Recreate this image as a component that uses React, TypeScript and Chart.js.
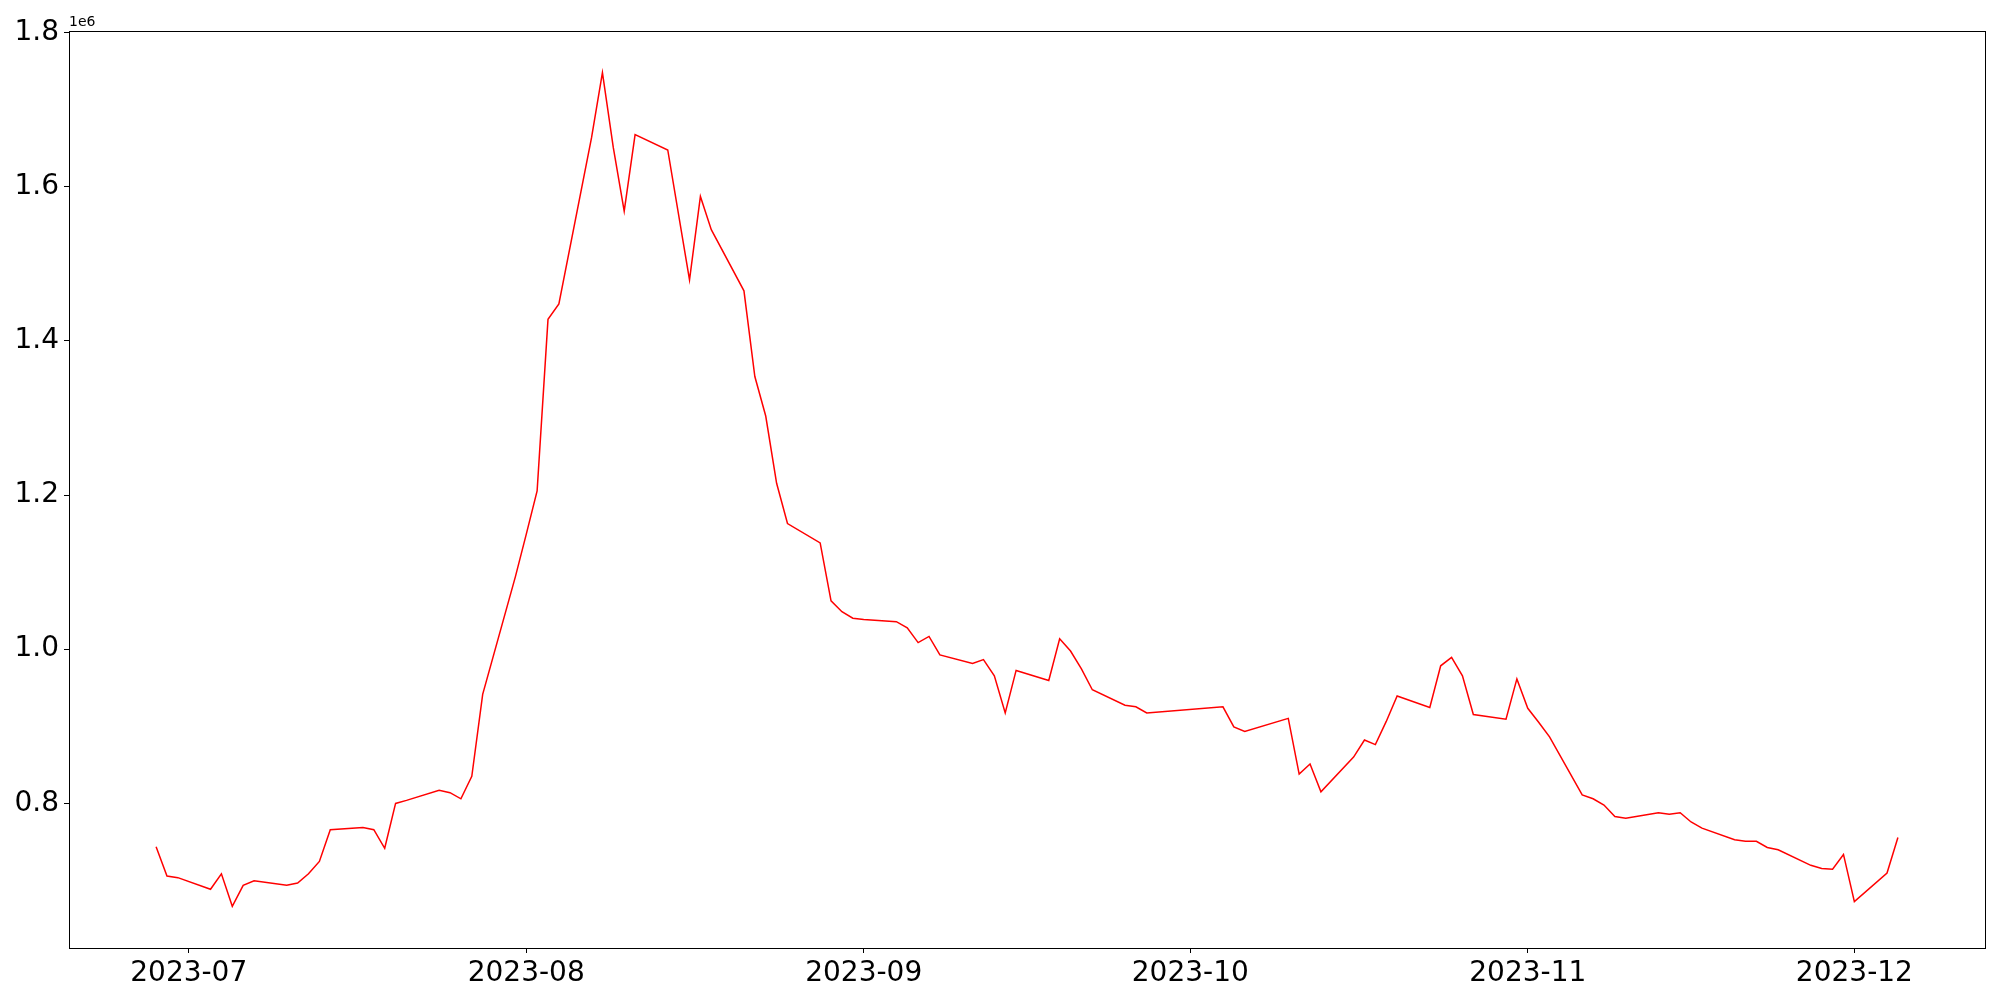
import React, { useEffect, useRef } from "react";
import { Chart, registerables } from "chart.js";

Chart.register(...registerables);

// Trading dates (weekday data with holiday gaps)
const dates: string[] = [
  "2023-06-28", "2023-06-29", "2023-06-30",
  "2023-07-03", "2023-07-04", "2023-07-05", "2023-07-06", "2023-07-07",
  "2023-07-10", "2023-07-11", "2023-07-12", "2023-07-13", "2023-07-14",
  "2023-07-17", "2023-07-18", "2023-07-19", "2023-07-20", "2023-07-21",
  "2023-07-24", "2023-07-25", "2023-07-26", "2023-07-27", "2023-07-28",
  "2023-07-31", "2023-08-01", "2023-08-02", "2023-08-03", "2023-08-04",
  "2023-08-07", "2023-08-08", "2023-08-09", "2023-08-10", "2023-08-11",
  "2023-08-14", "2023-08-16", "2023-08-17", "2023-08-18",
  "2023-08-21", "2023-08-22", "2023-08-23", "2023-08-24", "2023-08-25",
  "2023-08-28", "2023-08-29", "2023-08-30", "2023-08-31", "2023-09-01",
  "2023-09-04", "2023-09-05", "2023-09-06", "2023-09-07", "2023-09-08",
  "2023-09-11", "2023-09-12", "2023-09-13", "2023-09-14", "2023-09-15",
  "2023-09-18", "2023-09-19", "2023-09-20", "2023-09-21", "2023-09-22",
  "2023-09-25", "2023-09-26", "2023-09-27",
  "2023-10-04", "2023-10-05", "2023-10-06",
  "2023-10-10", "2023-10-11", "2023-10-12", "2023-10-13",
  "2023-10-16", "2023-10-17", "2023-10-18", "2023-10-19", "2023-10-20",
  "2023-10-23", "2023-10-24", "2023-10-25", "2023-10-26", "2023-10-27",
  "2023-10-30", "2023-10-31", "2023-11-01", "2023-11-02", "2023-11-03",
  "2023-11-06", "2023-11-07", "2023-11-08", "2023-11-09", "2023-11-10",
  "2023-11-13", "2023-11-14", "2023-11-15", "2023-11-16", "2023-11-17",
  "2023-11-20", "2023-11-21", "2023-11-22", "2023-11-23", "2023-11-24",
  "2023-11-27", "2023-11-28", "2023-11-29", "2023-11-30", "2023-12-01",
  "2023-12-04", "2023-12-05",
];

const values: number[] = [
  743600, 705500, 703500,
  688400, 708500, 666300, 693500, 699500,
  693500, 696500, 708500, 724600, 765700,
  768700, 765700, 741600, 799800, 803800,
  816900, 813800, 805800, 834900, 941300,
  1093800, 1149000, 1205200, 1427900, 1448000,
  1663700, 1748000, 1650700, 1568400, 1667700,
  1647700, 1479100, 1587400, 1544300,
  1465000, 1353700, 1302500, 1215200, 1163000,
  1137900, 1062700, 1048600, 1040100, 1038600,
  1035600, 1027600, 1008500, 1016500, 992500,
  981400, 986400, 965400, 917200, 972400,
  959300, 1013500, 997500, 974400, 947300,
  927200, 925200, 917200,
  925200, 899100, 893100,
  910200, 837900, 851000, 814900,
  860000, 882100, 876100, 906200, 939300,
  924200, 978400, 989400, 965400, 915200,
  909200, 961400, 923200, 905200, 886100,
  810800, 805800, 797800, 782800, 780700,
  787800, 785800, 787800, 775700, 767700,
  752600, 750600, 750600, 742600, 739600,
  719500, 715500, 714500, 733600, 672400,
  709500, 755600,
];

const xTickDates: string[] = ["2023-07-01", "2023-08-01", "2023-09-01", "2023-10-01", "2023-11-01", "2023-12-01"];
const xTickLabels: string[] = ["2023-07", "2023-08", "2023-09", "2023-10", "2023-11", "2023-12"];
const yTickValues: number[] = [800000, 1000000, 1200000, 1400000, 1600000, 1800000];
const yTickLabels: string[] = ["0.8", "1.0", "1.2", "1.4", "1.6", "1.8"];
const offsetText = "1e6";

const DAY_MS = 86400000;
const ORIGIN = Date.UTC(2023, 6, 1);
function toDay(s: string): number {
  const [y, m, d] = s.split("-").map(Number);
  return (Date.UTC(y, m - 1, d) - ORIGIN) / DAY_MS;
}

const FONT = "'DejaVu Sans', sans-serif";

export default function App() {
  const ref = useRef<HTMLCanvasElement | null>(null);

  useEffect(() => {
    if (!ref.current) return;
    const xs = dates.map(toDay);
    const xMinD = Math.min(...xs);
    const xMaxD = Math.max(...xs);
    const xm = (xMaxD - xMinD) * 0.05;
    const yMinD = Math.min(...values);
    const yMaxD = Math.max(...values);
    const ym = (yMaxD - yMinD) * 0.05;

    const framePlugin = {
      id: "frame",
      afterDraw(chart: any) {
        const { ctx, chartArea } = chart;
        ctx.save();
        ctx.strokeStyle = "#000";
        ctx.lineWidth = 1;
        ctx.strokeRect(
          Math.round(chartArea.left) + 0.5,
          Math.round(chartArea.top) + 0.5,
          Math.round(chartArea.right - chartArea.left),
          Math.round(chartArea.bottom - chartArea.top)
        );
        ctx.fillStyle = "#000";
        ctx.font = `14px ${FONT}`;
        ctx.textAlign = "left";
        ctx.textBaseline = "alphabetic";
        ctx.fillText(offsetText, chartArea.left, chartArea.top - 5);
        ctx.restore();
      },
    };

    const chart = new Chart(ref.current, {
      type: "line",
      data: {
        datasets: [
          {
            data: xs.map((x, i) => ({ x, y: values[i] })),
            borderColor: "#ff0000",
            borderWidth: 1.5,
            pointRadius: 0,
            tension: 0,
            fill: false,
          },
        ],
      },
      options: {
        animation: false,
        responsive: false,
        maintainAspectRatio: false,
        layout: { padding: { top: 31, right: 15, left: 0, bottom: 0 } },
        plugins: { legend: { display: false }, tooltip: { enabled: false } },
        scales: {
          x: {
            type: "linear",
            min: xMinD - xm,
            max: xMaxD + xm,
            border: { display: false },
            grid: { display: true, drawOnChartArea: false, drawTicks: true, tickLength: 5, color: "#000", lineWidth: 1 },
            afterBuildTicks: (scale: any) => {
              scale.ticks = xTickDates.map((d) => ({ value: toDay(d) }));
            },
            afterFit: (scale: any) => {
              scale.height = 52;
            },
            ticks: {
              autoSkip: false,
              maxRotation: 0,
              padding: 4,
              color: "#000",
              font: { family: FONT, size: 28 },
              callback: (_v: any, i: number) => xTickLabels[i],
            },
          },
          y: {
            type: "linear",
            min: yMinD - ym,
            max: yMaxD + ym,
            border: { display: false },
            grid: { display: true, drawOnChartArea: false, drawTicks: true, tickLength: 5, color: "#000", lineWidth: 1 },
            afterBuildTicks: (scale: any) => {
              scale.ticks = yTickValues.map((v) => ({ value: v }));
            },
            afterFit: (scale: any) => {
              scale.width = 69;
            },
            ticks: {
              autoSkip: false,
              padding: 5,
              color: "#000",
              font: { family: FONT, size: 28 },
              callback: (_v: any, i: number) => yTickLabels[i],
            },
          },
        },
      },
      plugins: [framePlugin],
    } as any);

    return () => chart.destroy();
  }, []);

  return (
    <div style={{ position: "fixed", left: 0, top: 0, width: 2000, height: 1000, background: "#fff" }}>
      <canvas ref={ref} width={2000} height={1000} style={{ width: 2000, height: 1000, display: "block" }} />
    </div>
  );
}
